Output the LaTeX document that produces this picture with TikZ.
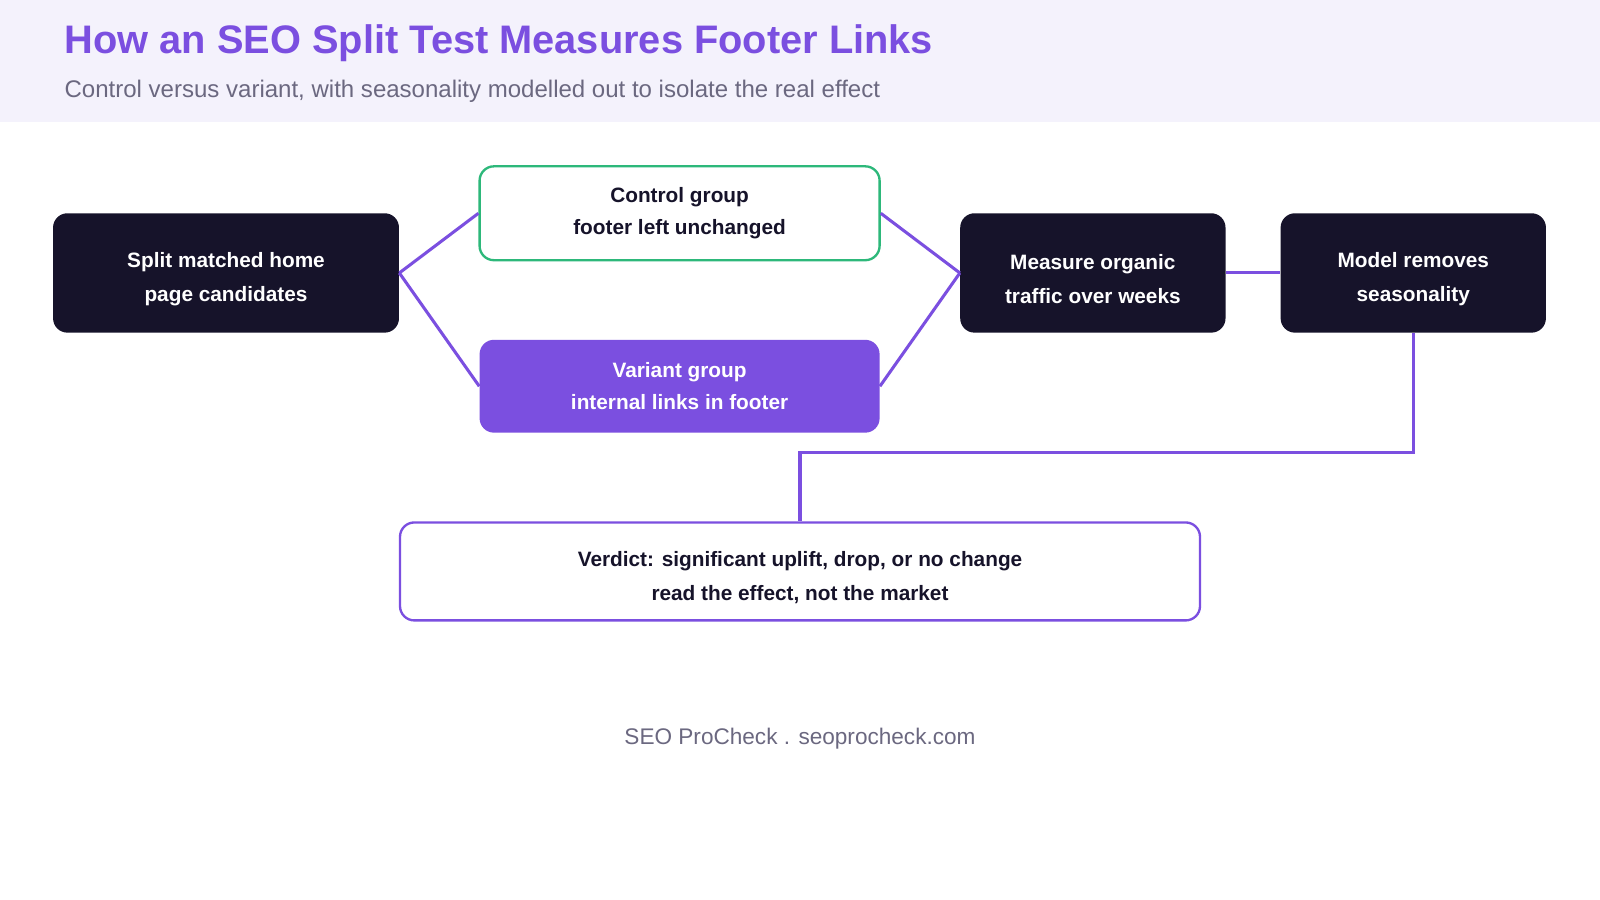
\documentclass[tikz,border=0pt]{standalone}
\usepackage{fontspec}
\setmainfont{Liberation Sans}
\usetikzlibrary{positioning}
\definecolor{inkdark}{HTML}{16132A}
\definecolor{seopurple}{HTML}{7B4FE0}
\definecolor{seogreen}{HTML}{2DB87A}
\definecolor{headband}{HTML}{F4F2FC}
\definecolor{mutedgray}{HTML}{6B6880}
\newcommand{\topgap}{\rule{0pt}{15.5pt}}
\tikzset{
  darkbox/.style={rectangle,rounded corners=8pt,fill=inkdark,text=white,font=\bfseries\fontsize{11.6}{19}\selectfont,align=center,inner sep=0pt},
  ctrlbox/.style={rectangle,rounded corners=8pt,draw=seogreen,line width=1.3pt,fill=white,text=inkdark,font=\bfseries\fontsize{11.6}{17.5}\selectfont,align=center,inner sep=0pt},
  varbox/.style={rectangle,rounded corners=8pt,fill=seopurple,text=white,font=\bfseries\fontsize{11.6}{17.5}\selectfont,align=center,inner sep=0pt},
  verdbox/.style={rectangle,rounded corners=8pt,draw=seopurple,line width=1.3pt,fill=white,text=inkdark,font=\bfseries\fontsize{11.6}{19}\selectfont,align=center,inner sep=0pt},
  link/.style={seopurple,line width=1.7pt}
}
\begin{document}
\begin{tikzpicture}[x=0.02cm,y=-0.02cm]
\useasboundingbox (0,0) rectangle (1568,882);
\fill[white] (0,0) rectangle (1568,882);
\fill[headband] (0,0) rectangle (1568,120);
\node[anchor=west,inner sep=0pt,text=seopurple,font=\bfseries\fontsize{22.2}{26}\selectfont] (title) at (63,42) {How an SEO Split Test Measures Footer Links};
\node[anchor=west,inner sep=0pt,text=mutedgray,font=\fontsize{13.4}{16}\selectfont] (subtitle) at (63,89) {Control versus variant, with seasonality modelled out to isolate the real effect};

% stages
\node[darkbox,minimum width=339*0.02cm,minimum height=117*0.02cm] (split) at (221.5,267.5) {\topgap Split matched home\\page candidates};
\node[ctrlbox,minimum width=392*0.02cm,minimum height=92*0.02cm] (control) at (666,209) {Control group\\footer left unchanged};
\node[varbox,minimum width=392*0.02cm,minimum height=91*0.02cm] (variant) at (666,378.5) {Variant group\\internal links in footer};
\node[darkbox,minimum width=260*0.02cm,minimum height=117*0.02cm] (measure) at (1071,267.5) {\topgap Measure organic\\traffic over weeks};
\node[darkbox,minimum width=260*0.02cm,minimum height=117*0.02cm] (model) at (1385,267.5) {\topgap Model removes\\seasonality};
\node[verdbox,minimum width=784*0.02cm,minimum height=96*0.02cm] (verdict) at (784,560) {\topgap Verdict: significant uplift, drop, or no change\\read the effect, not the market};
\coordinate (bend) at (1385,443);

% connectors
\draw[link] (split.east) -- (control.west);
\draw[link] (split.east) -- (variant.west);
\draw[link] (control.east) -- (measure.west);
\draw[link] (variant.east) -- (measure.west);
\draw[link] (measure.east) -- (model.west);
\draw[link] (model.south) -- (bend) -| (verdict.north);

\node[text=mutedgray,font=\fontsize{12.6}{15}\selectfont] (footer) at (784,724) {SEO ProCheck . seoprocheck.com};
\end{tikzpicture}
\end{document}
